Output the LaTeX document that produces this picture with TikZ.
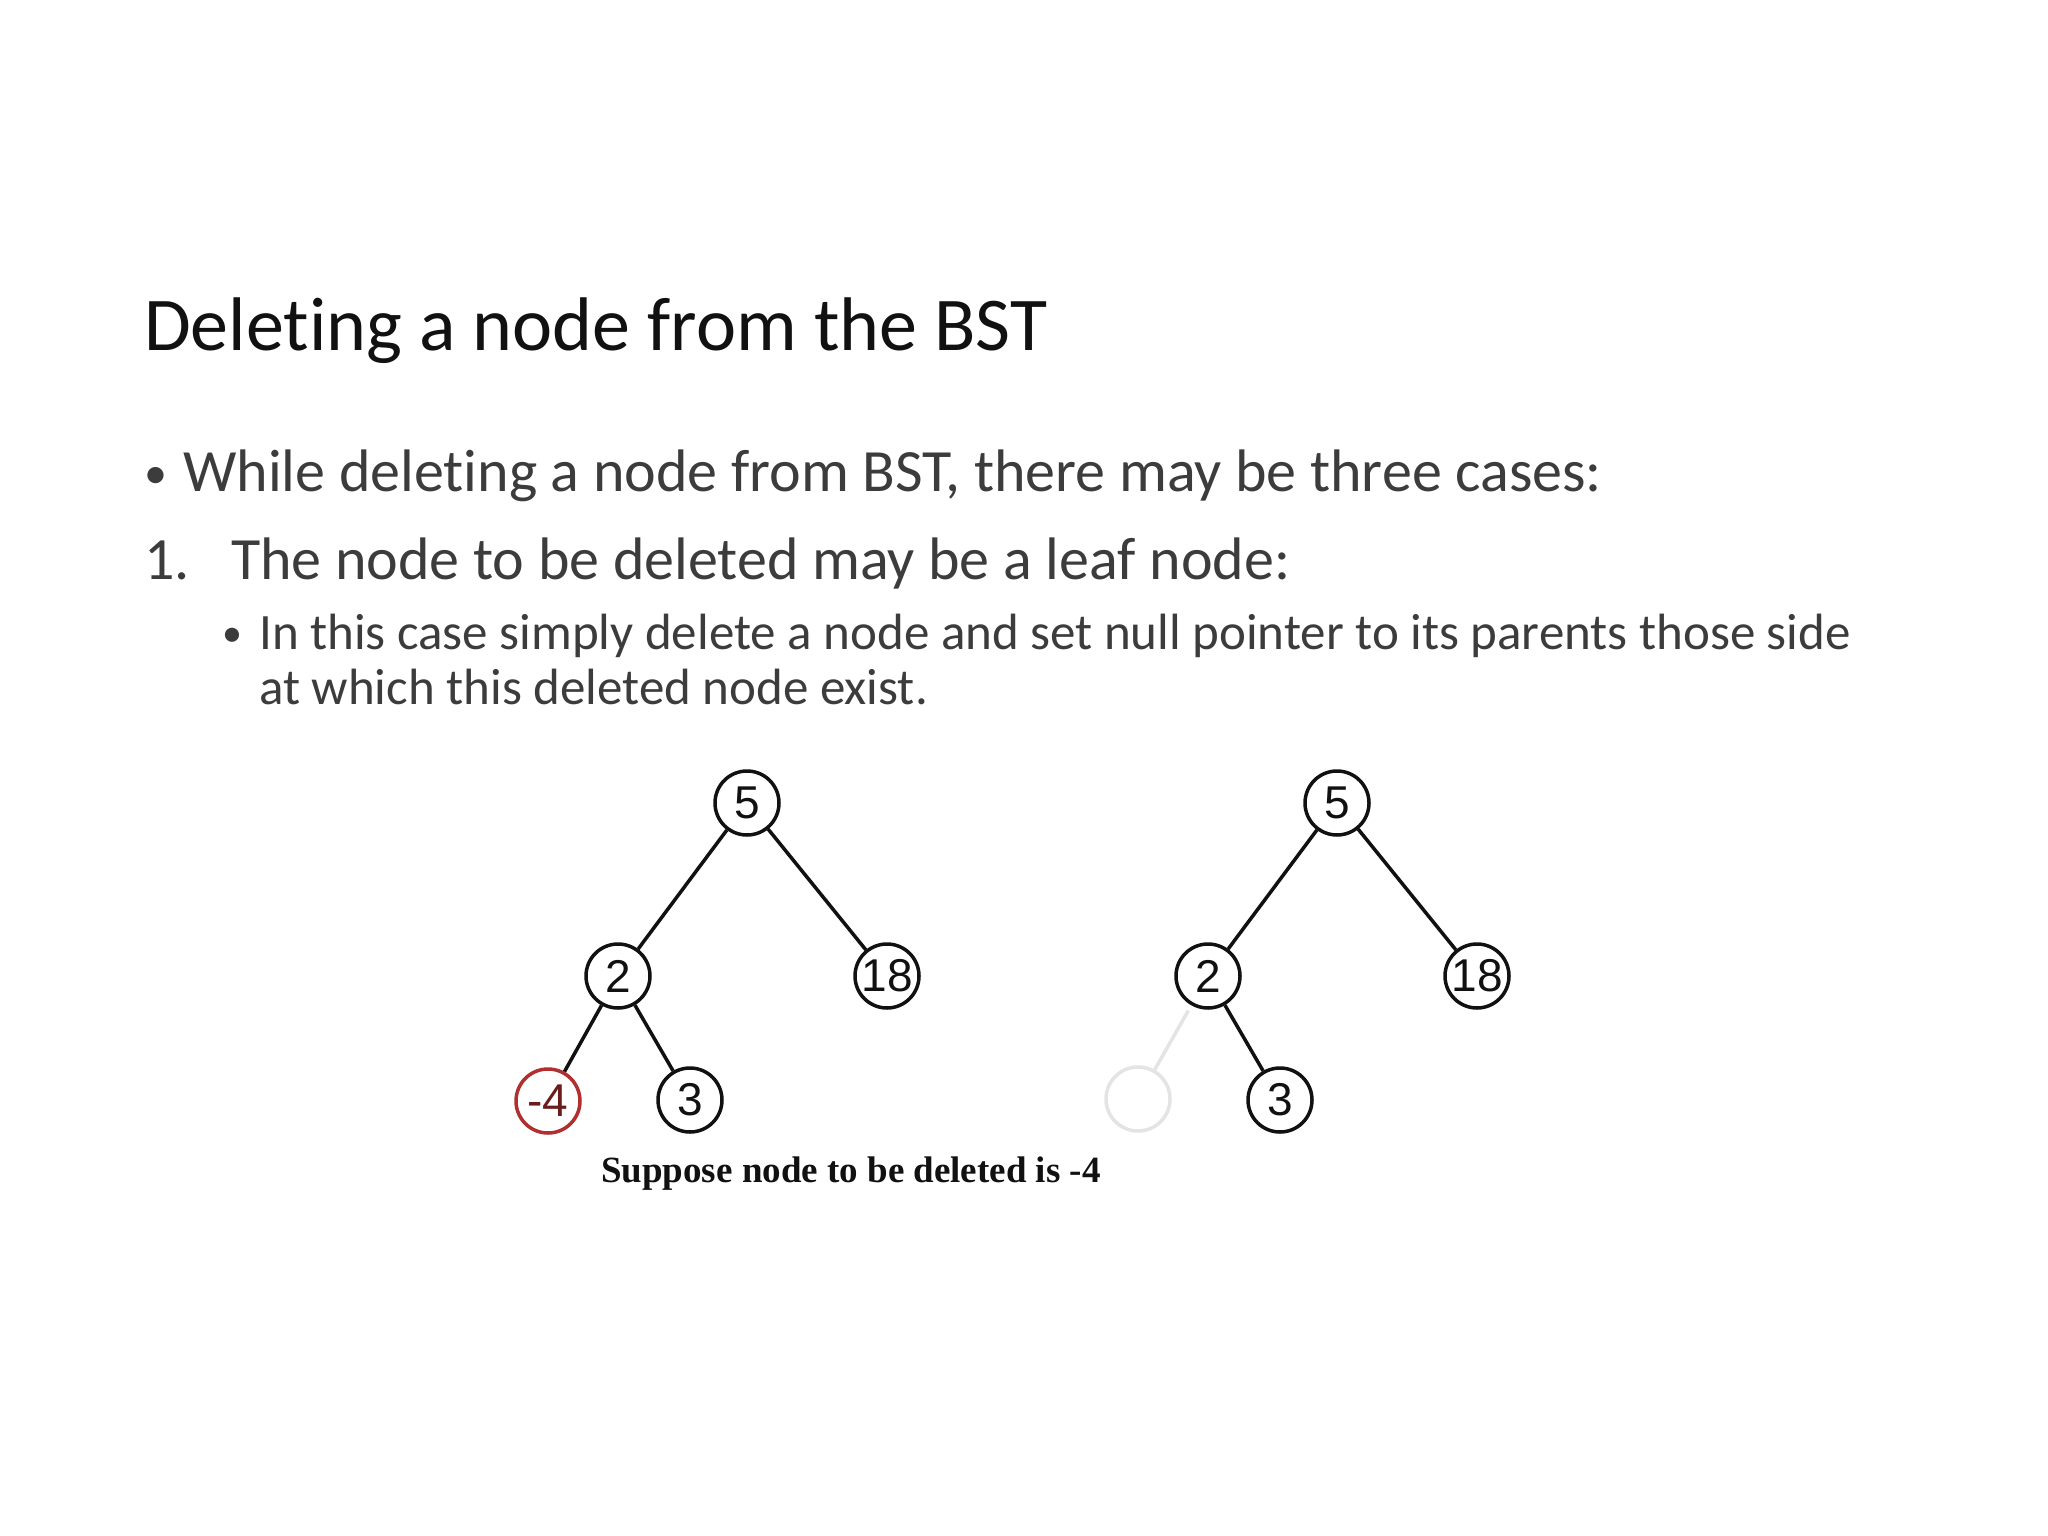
\documentclass[tikz,border=0pt]{standalone}
\usepackage{fontspec}
\setmainfont{Carlito}[Ligatures=NoCommon]
\newfontfamily\keyfont{Liberation Sans}
\newfontfamily\capfont{Liberation Serif}
\usetikzlibrary{positioning}
\definecolor{ink}{HTML}{111111}
\definecolor{body}{HTML}{3C3C3C}
\definecolor{drop}{HTML}{B03030}
\definecolor{ghost}{HTML}{E4E4E4}
\tikzset{
  key/.style={circle, draw=ink, line width=3.5pt, minimum size=64pt, inner sep=0pt,
              font=\keyfont\fontsize{46}{46}\selectfont, text=ink},
  gonekey/.style={key, draw=drop, text=drop!60!black},
  ghostkey/.style={key, draw=ghost},
  edge/.style={line width=3.5pt, draw=ink},
  ghostedge/.style={line width=3.5pt, draw=ghost},
  ttl/.style={anchor=base west, inner sep=0pt, font=\fontsize{76}{90}\selectfont, text=ink},
  txt/.style={anchor=base west, inner sep=0pt, font=\fontsize{60}{70}\selectfont, text=body},
  subtxt/.style={anchor=base west, inner sep=0pt, font=\fontsize{51}{60}\selectfont, text=body},
  dotbig/.style={txt, font=\fontsize{46}{50}\selectfont},
  dotsmall/.style={txt, font=\fontsize{40}{44}\selectfont},
}

\begin{document}
\begin{tikzpicture}[x=1pt, y=-1pt]
  \fill[white] (0,0) rectangle (2048,1536);
  \useasboundingbox (0,0) rectangle (2048,1536);
  % slide text
  \node[ttl] (title) at (144,350) {Deleting a node from the BST};
  \node[dotbig] (dot1) at (144,488) {•};
  \node[txt] (cases) at (183,491) {While deleting a node from BST, there may be three cases:};
  \node[txt] (num1) at (144,579) {1.};
  \node[txt] (leaf) at (231,579) {The node to be deleted may be a leaf node:};
  \node[dotsmall] (dot2) at (222,646) {•};
  \node[subtxt] (rule1) at (259,649) {In this case simply delete a node and set null pointer to its parents those side};
  \node[subtxt] (rule2) at (259,704) {at which this deleted node exist.};
  % the two trees, before and after
  \foreach \t/\dx in {L/0, R/590} {
    \node[key] (\t5) at (747+\dx,803) {5};
    \node[key] (\t2) at (618+\dx,976) {2};
    \node[key] (\t18) at (887+\dx,976) {18};
    \node[key] (\t3) at (690+\dx,1100) {3};
    \draw[edge] (\t5) -- (\t2);
    \draw[edge] (\t5) -- (\t18);
    \draw[edge] (\t2) -- (\t3);
  }
  \node[gonekey] (Lm4) at (548,1101) {-4};
  \draw[edge] (L2) -- (Lm4);
  \node[ghostkey] (Rm4) at (1138,1099) {};
  \draw[ghostedge, shorten <=6pt] (R2) -- (Rm4);
  \node[anchor=base west, inner sep=0pt, font=\capfont\bfseries\fontsize{37}{40}\selectfont, text=ink] (note) at (601,1182) {Suppose node to be deleted is -4};
\end{tikzpicture}
\end{document}
